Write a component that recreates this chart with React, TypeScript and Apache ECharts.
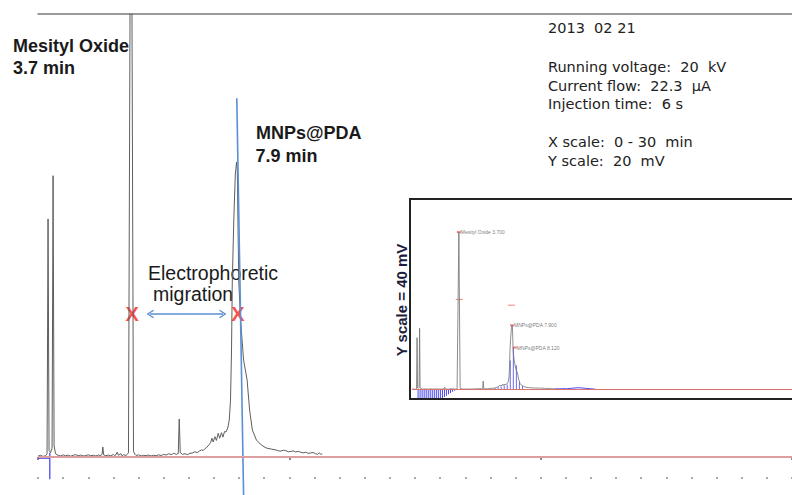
import { useEffect, useRef } from 'react';
import * as echarts from 'echarts';

// Peak apex times (min)
const mesitylTime = 3.7;
const mnpsTime = 7.9;

// Electropherogram trace: [migration time (min), detector signal (mV)]
const trace: [number, number][] = [
  [0.00, 0.04], [0.10, 0.08], [0.20, 0.03], [0.30, 0.06], [0.36, 0.15], [0.40, 10.75], [0.44, 0.30], [0.50, 0.20],
  [0.56, 0.40], [0.60, 12.70], [0.64, 0.50], [0.70, 0.15], [0.80, 0.08], [0.90, 0.05], [1.00, 0.10], [1.10, 0.06],
  [1.20, 0.09], [1.30, 0.04], [1.40, 0.08], [1.50, 0.11], [1.60, 0.06], [1.70, 0.09], [1.80, 0.05], [1.90, 0.07],
  [2.00, 0.10], [2.10, 0.06], [2.20, 0.08], [2.30, 0.05], [2.40, 0.09], [2.50, 0.07], [2.55, 0.12], [2.58, 0.45],
  [2.61, 0.10], [2.70, 0.06], [2.80, 0.09], [2.90, 0.05], [3.00, 0.12], [3.05, 0.06], [3.10, 0.10], [3.15, 0.22],
  [3.20, 0.08], [3.30, 0.15], [3.35, 0.05], [3.40, 0.11], [3.50, 0.07], [3.56, 0.13], [3.60, 0.20], [mesitylTime, 32.7],
  [3.80, 0.25], [3.86, 0.12], [3.90, 0.07], [4.00, 0.10], [4.10, 0.05], [4.20, 0.08], [4.30, 0.06], [4.40, 0.09],
  [4.50, 0.05], [4.60, 0.08], [4.70, 0.06], [4.80, 0.10], [4.90, 0.07], [5.00, 0.12], [5.10, 0.09], [5.20, 0.15],
  [5.30, 0.11], [5.40, 0.17], [5.50, 0.12], [5.58, 0.16], [5.62, 1.72], [5.66, 0.20], [5.75, 0.12], [5.85, 0.15],
  [5.95, 0.11], [6.05, 0.17], [6.14, 0.18], [6.24, 0.24], [6.34, 0.20], [6.42, 0.27], [6.50, 0.32], [6.58, 0.30],
  [6.64, 0.38], [6.70, 0.42], [6.76, 0.50], [6.82, 0.58], [6.87, 0.66], [6.92, 0.85], [6.97, 0.68], [7.04, 0.92],
  [7.10, 0.75], [7.17, 1.07], [7.23, 0.85], [7.30, 1.10], [7.36, 0.90], [7.42, 1.15], [7.48, 1.13], [7.55, 1.31],
  [7.61, 1.67], [7.66, 2.57], [7.70, 4.83], [7.73, 7.86], [7.79, 10.70], [7.85, 12.73], [mnpsTime, 13.32], [7.93, 12.96],
  [7.96, 10.25], [7.99, 7.86], [8.06, 6.19], [8.18, 4.38], [8.32, 3.48], [8.42, 2.12], [8.53, 1.22], [8.69, 0.77],
  [8.89, 0.54], [9.08, 0.41], [9.28, 0.36], [9.47, 0.32], [9.57, 0.28], [9.67, 0.27], [9.76, 0.31], [9.86, 0.29],
  [9.96, 0.24], [10.06, 0.25], [10.15, 0.28], [10.25, 0.23], [10.35, 0.26], [10.45, 0.22], [10.55, 0.19], [10.65, 0.22],
  [10.74, 0.17], [10.84, 0.18], [10.94, 0.21], [11.04, 0.15], [11.12, 0.12], [11.19, 0.19], [11.25, 0.13], [11.31, 0.14],
];

// Later part of the run, shown only in the full-scale inset
const insetTail: [number, number][] = [
  [11.31, 0.14], [11.6, 0.10], [11.9, 0.15], [12.2, 0.12], [12.5, 0.20], [12.8, 0.28],
  [13.1, 0.35], [13.4, 0.30], [13.7, 0.22], [14.0, 0.15], [14.3, 0.08], [14.5, 0.02],
];

// Integration hatching in the inset (negative drift at the start, peak area later)
const insetDriftTimes = [0.48, 0.64, 0.80, 0.96, 1.12, 1.28, 1.44, 1.60, 1.76, 1.92, 2.08, 2.24, 2.40, 2.56, 2.72, 2.88, 3.04, 3.20, 3.36, 3.52];
const insetDriftLevels = [-1.85, -1.9, -1.9, -1.88, -1.9, -1.9, -1.86, -1.9, -1.9, -1.88, -1.9, -1.85, -1.8, -1.6, -1.3, -1.0, -0.75, -0.5, -0.3, -0.15];
const insetPeakHatchTimes = [6.56, 6.80, 7.04, 7.28, 7.52, 7.76, 8.00, 8.24, 8.48, 8.72];
const insetPeakHatchLevels = [0.3, 0.5, 0.6, 0.8, 1.0, 6.0, 8.8, 5.0, 1.6, 0.7];

// Integrator peak labels in the inset
const insetPeakNames = ['Mesityl Oxide 3.700', 'MNPs@PDA 7.900', 'MNPs@PDA 8.120'];
const insetPeakTimes = [mesitylTime, mnpsTime, 8.12];
const insetPeakHeights = [32.7, 13.32, 8.7];
const insetHalfMarks: [number, number][] = [[3.73, 18.7], [7.85, 17.5]];

// Annotations on the main trace
const peakMarkerLine: [number, number][] = [[7.91, 16.2], [8.18, -1.72]];
const injectionMarker: [number, number][] = [[0, -0.05], [0.47, -0.05], [0.47, 0.2], [0.47, -1.0]];
const crossTimes = [3.75, 7.95];
const crossLevel = 6.47;
const arrowFrom = 4.46;
const arrowTo = 7.36;
const arrowLevel = 6.46;

const NB = '\u00a0';
const infoLines: [string, number][] = [
  [`2013${NB}${NB}02 21`, 28.3],
  [`Running voltage:${NB}${NB}20${NB}${NB}kV`, 66.7],
  [`Current flow:${NB}${NB}22.3${NB}${NB}\u03bcA`, 85.7],
  [`Injection time:${NB}${NB}6${NB}s`, 104.3],
  [`X scale:${NB}${NB}0 - 30${NB}${NB}min`, 141.7],
  [`Y scale:${NB}${NB}20${NB}${NB}mV`, 160.7],
];

const SANS = '"Liberation Sans", Arial, sans-serif';
const chevron = 'path://M0,10 L5,0 L10,10 L8.4,10 L5,3.2 L1.6,10 Z';

function buildOption(): echarts.EChartsOption {
  const hidden = { show: false };
  return {
    animation: false,
    backgroundColor: '#ffffff',
    grid: [
      { left: 38, top: 14, width: 766, bottom: 18 },
      { left: 412, top: 197, width: 386, height: 202 },
      // thin strip holding the minute dots under the main trace
      { left: 38, top: 477, width: 766, height: 2 },
    ],
    xAxis: [
      {
        gridIndex: 0, type: 'value', min: 0, max: 30, interval: 10, position: 'bottom',
        axisLine: hidden, axisLabel: hidden, splitLine: hidden,
        axisTick: { show: true, length: 3, lineStyle: { color: '#8a8a8a', width: 2 } },
      },
      {
        gridIndex: 0, type: 'value', min: 0, max: 30, position: 'top',
        axisLine: { show: true, lineStyle: { color: '#7a7a7a', width: 1.5 } },
        axisTick: hidden, axisLabel: hidden, splitLine: hidden,
      },
      {
        gridIndex: 1, type: 'value', min: 0, max: 30, interval: 1, position: 'bottom',
        axisLine: hidden, axisLabel: hidden, axisTick: hidden,
        splitLine: { show: false },
      },
      {
        gridIndex: 2, type: 'value', min: 0, max: 30, interval: 1, position: 'bottom',
        axisLine: hidden, axisLabel: hidden, axisTick: hidden,
        splitLine: { show: true, lineStyle: { color: '#ababab', width: 2 } },
      },
    ],
    yAxis: [
      { gridIndex: 0, type: 'value', min: -0.9, max: 20, show: false },
      { gridIndex: 1, type: 'value', min: -2, max: 40, show: false },
      { gridIndex: 2, type: 'value', min: 0, max: 1, show: false },
    ],
    series: [
      {
        name: 'baseline', type: 'line', xAxisIndex: 0, yAxisIndex: 0, data: [], silent: true,
        markLine: {
          silent: true, symbol: 'none', label: hidden,
          lineStyle: { color: '#dc9e9e', width: 2, type: 'solid' },
          data: [{ yAxis: 0 }],
        },
      },
      {
        name: 'signal', type: 'line', xAxisIndex: 0, yAxisIndex: 0, data: trace,
        symbol: 'none', clip: true, lineStyle: { color: '#5e5e5e', width: 1 },
      },
      {
        name: 'injection', type: 'line', xAxisIndex: 0, yAxisIndex: 0, data: injectionMarker,
        symbol: 'none', clip: false, lineStyle: { color: '#3c3cf0', width: 1.2 },
      },
      {
        name: 'peak marker', type: 'line', xAxisIndex: 0, yAxisIndex: 0, data: peakMarkerLine,
        symbol: 'none', clip: false, lineStyle: { color: '#5b8fd4', width: 1.6 },
      },
      {
        name: 'half height', type: 'scatter', xAxisIndex: 0, yAxisIndex: 0,
        data: crossTimes.map((t) => [t, crossLevel]),
        symbol: 'circle', symbolSize: 1, itemStyle: { color: 'rgba(0,0,0,0)' },
        label: {
          show: true, position: 'inside', formatter: 'X', color: '#ff1a1a',
          fontSize: 20, fontWeight: 'bold', fontFamily: SANS,
        },
        markLine: {
          silent: true, symbol: [chevron, chevron], symbolSize: [9, 7], label: hidden,
          lineStyle: { color: '#5b8fd0', width: 1.5, type: 'solid' },
          data: [[{ coord: [arrowFrom, arrowLevel] }, { coord: [arrowTo, arrowLevel] }]],
        },
      },
      // ---- inset: full run at 40 mV scale ----
      {
        name: 'inset baseline', type: 'line', xAxisIndex: 2, yAxisIndex: 1, data: [], silent: true,
        markLine: {
          silent: true, symbol: 'none', label: hidden,
          lineStyle: { color: '#e07070', width: 1, type: 'solid' },
          data: [{ yAxis: 0 }],
        },
      },
      {
        name: 'inset drift', type: 'bar', xAxisIndex: 2, yAxisIndex: 1,
        data: insetDriftTimes.map((t, i) => [t, insetDriftLevels[i]]),
        barWidth: 1, itemStyle: { color: '#4646f0' },
      },
      {
        name: 'inset peak area', type: 'bar', xAxisIndex: 2, yAxisIndex: 1,
        data: insetPeakHatchTimes.map((t, i) => [t, insetPeakHatchLevels[i]]),
        barWidth: 1, barGap: '-100%', itemStyle: { color: '#6a6af0' },
      },
      {
        name: 'inset signal', type: 'line', xAxisIndex: 2, yAxisIndex: 1, data: trace,
        symbol: 'none', lineStyle: { color: '#707070', width: 0.8 },
      },
      {
        name: 'inset tail', type: 'line', xAxisIndex: 2, yAxisIndex: 1, data: insetTail,
        symbol: 'none', lineStyle: { color: '#4a4af0', width: 1 },
      },
      {
        name: 'inset half marks', type: 'scatter', xAxisIndex: 2, yAxisIndex: 1, data: insetHalfMarks,
        symbol: 'rect', symbolSize: [7, 1.2], itemStyle: { color: '#f07a7a' },
      },
      {
        name: 'inset peaks', type: 'scatter', xAxisIndex: 2, yAxisIndex: 1,
        data: insetPeakTimes.map((t, i) => [t, insetPeakHeights[i], insetPeakNames[i]]),
        symbol: 'rect', symbolSize: [4, 2], itemStyle: { color: '#f06060' },
        label: {
          show: true, position: 'right', distance: 0, fontSize: 5, color: '#555555', fontFamily: SANS,
          formatter: (p: any) => p.value[2],
        },
      },
    ],
    graphic: [
      {
        type: 'rect', shape: { x: 410, y: 199, width: 400, height: 200 },
        style: { fill: 'none', stroke: '#222222', lineWidth: 2 }, z: 10,
      },
      {
        type: 'text', x: 401, y: 300, rotation: Math.PI / 2,
        style: {
          text: 'Y scale = 40 mV', font: `bold 15px ${SANS}`, fill: '#1c1c3c',
          align: 'center', verticalAlign: 'middle',
        },
      },
      {
        type: 'text', x: 13, y: 46,
        style: { text: 'Mesityl Oxide', font: `bold 18px ${SANS}`, fill: '#1a1a1a', align: 'left', verticalAlign: 'middle' },
      },
      {
        type: 'text', x: 13, y: 67.5,
        style: { text: `${mesitylTime} min`, font: `bold 18px ${SANS}`, fill: '#1a1a1a', align: 'left', verticalAlign: 'middle' },
      },
      {
        type: 'text', x: 256, y: 133.3,
        style: { text: 'MNPs@PDA', font: `bold 18px ${SANS}`, fill: '#1a1a1a', align: 'left', verticalAlign: 'middle' },
      },
      {
        type: 'text', x: 255.5, y: 156,
        style: { text: `${mnpsTime} min`, font: `bold 18px ${SANS}`, fill: '#1a1a1a', align: 'left', verticalAlign: 'middle' },
      },
      {
        type: 'text', x: 148, y: 272.8,
        style: { text: 'Electrophoretic', font: `19.5px ${SANS}`, fill: '#1a1a1a', align: 'left', verticalAlign: 'middle' },
      },
      {
        type: 'text', x: 153, y: 293.6,
        style: { text: 'migration', font: `19.5px ${SANS}`, fill: '#1a1a1a', align: 'left', verticalAlign: 'middle' },
      },
      ...infoLines.map(([text, y]) => ({
        type: 'text' as const, x: 548, y,
        style: { text, font: '14.5px "DejaVu Sans", sans-serif', fill: '#222222', align: 'left', verticalAlign: 'middle' },
      })),
    ],
  } as echarts.EChartsOption;
}

export default function App() {
  const ref = useRef<HTMLDivElement>(null);
  useEffect(() => {
    if (!ref.current) return;
    const chart = echarts.init(ref.current, undefined, { renderer: 'svg' });
    chart.setOption(buildOption());
    return () => chart.dispose();
  }, []);
  return (
    <div
      ref={ref}
      style={{ position: 'fixed', left: 0, top: 0, width: 792, height: 495, background: '#fff' }}
    />
  );
}
